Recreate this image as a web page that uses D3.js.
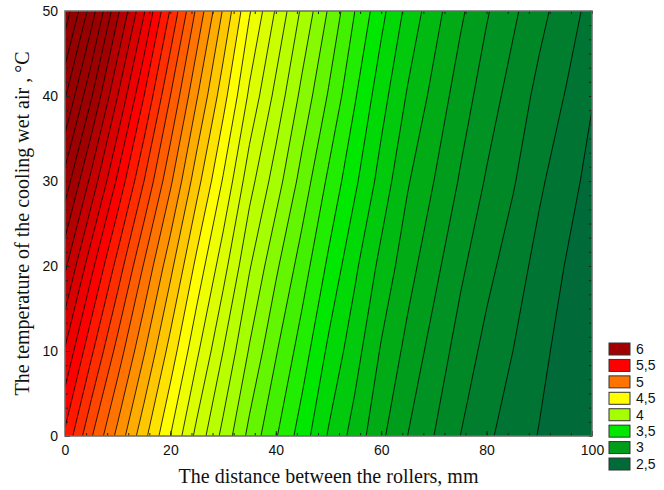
<!DOCTYPE html>
<html>
<head>
<meta charset="utf-8">
<script src="https://cdn.jsdelivr.net/npm/d3@7"></script>
<style>
  body { margin: 0; background: #fff; }
  svg { display: block; }
</style>
</head>
<body>
<svg id="chart" width="664" height="490"></svg>
<script>
//  1] Data ----------------------------------------//
// grid columns: distance between the rollers (mm), rows: air temperature (°C)
const distance = [0, 5, 10, 15, 20, 25, 30, 35, 40, 45, 50, 55, 60, 65, 70, 75, 80, 85, 90, 95, 100];
const temperature = [0, 10, 20, 30, 40, 50];

// response values along each temperature row
const zT0  = [5.48, 5.21, 4.97, 4.73, 4.50, 4.27, 4.07, 3.87, 3.71, 3.55, 3.39, 3.26, 3.12, 3.00, 2.90, 2.80, 2.72, 2.65, 2.595, 2.55, 2.50];
const zT10 = [5.69, 5.42, 5.16, 4.91, 4.66, 4.42, 4.20, 3.99, 3.81, 3.65, 3.48, 3.34, 3.19, 3.07, 2.96, 2.86, 2.77, 2.70, 2.626, 2.564, 2.512];
const zT20 = [5.92, 5.63, 5.36, 5.09, 4.83, 4.57, 4.34, 4.11, 3.92, 3.75, 3.58, 3.42, 3.27, 3.14, 3.03, 2.92, 2.83, 2.75, 2.666, 2.596, 2.535];
const zT30 = [6.16, 5.87, 5.58, 5.30, 5.02, 4.74, 4.49, 4.24, 4.05, 3.86, 3.68, 3.52, 3.36, 3.21, 3.10, 2.99, 2.89, 2.81, 2.717, 2.64, 2.568];
const zT40 = [6.41, 6.11, 5.80, 5.50, 5.20, 4.91, 4.64, 4.38, 4.17, 3.97, 3.79, 3.61, 3.44, 3.29, 3.17, 3.05, 2.95, 2.86, 2.771, 2.695, 2.606];
const zT50 = [6.66, 6.35, 6.02, 5.71, 5.39, 5.08, 4.79, 4.51, 4.29, 4.08, 3.89, 3.70, 3.53, 3.37, 3.24, 3.12, 3.01, 2.92, 2.83, 2.75, 2.665];

// legend (top to bottom)
const legendLevels = [6, 5.5, 5, 4.5, 4, 3.5, 3, 2.5];
const legendColors = ["#a00000", "#ff0000", "#ff7400", "#ffff00", "#a6ff00", "#00e800", "#009c1c", "#006a38"];

const xTicks = [0, 20, 40, 60, 80, 100];
const yTicks = [0, 10, 20, 30, 40, 50];

//  2] Chart settings ------------------------------//
const plotLeft = 65, plotRight = 592, plotTop = 11, plotBottom = 436;
const svg = d3.select("#chart");

const x = d3.scaleLinear().domain([0, 100]).range([plotLeft, plotRight]);
const y = d3.scaleLinear().domain([0, 50]).range([plotBottom, plotTop]);

// band colour, interpolated through the legend colours
const color = d3.scaleLinear()
  .domain([2.5, 3, 3.5, 4, 4.5, 5, 5.5, 6, 6.7])
  .range(legendColors.slice().reverse().concat(["#8c0000"]))
  .clamp(true);

//  3] Contours ------------------------------------//
const grid = [zT0, zT10, zT20, zT30, zT40, zT50].flat();
const levels = d3.range(26, 67).map(d => d / 10);

const contours = d3.contours()
  .size([distance.length, temperature.length])
  .thresholds(levels)(grid);

// contour grid coords -> data -> pixels (grid value i sits at i + 0.5)
const stepX = distance[1] - distance[0];
const stepY = temperature[1] - temperature[0];
const toPixels = d3.geoTransform({
  point(gx, gy) {
    this.stream.point(x(distance[0] + (gx - 0.5) * stepX), y(temperature[0] + (gy - 0.5) * stepY));
  }
});
const path = d3.geoPath(toPixels);

svg.append("clipPath").attr("id", "plotclip")
  .append("rect")
  .attr("x", plotLeft).attr("y", plotTop)
  .attr("width", plotRight - plotLeft).attr("height", plotBottom - plotTop);

const plot = svg.append("g").attr("clip-path", "url(#plotclip)");

plot.append("rect")
  .attr("x", plotLeft).attr("y", plotTop)
  .attr("width", plotRight - plotLeft).attr("height", plotBottom - plotTop)
  .attr("fill", color(2.5));

plot.append("g")
  .selectAll("path")
  .data(contours)
  .join("path")
  .attr("d", path)
  .attr("fill", d => color(d.value));

plot.append("g")
  .selectAll("path")
  .data(contours)
  .join("path")
  .attr("d", path)
  .attr("fill", "none")
  .attr("stroke", "#000")
  .attr("stroke-width", 0.8);

//  4] Axes (inner ticks on all four sides) --------//
const xMinor = d3.range(0, 101, 4);
const yMinor = d3.range(0, 31).map(i => i * 50 / 30);

function styleAxis(g) {
  g.select(".domain").remove();
  g.selectAll("line").attr("stroke", "#222");
  g.selectAll("text")
    .attr("font-family", "'Liberation Sans', Arial, sans-serif")
    .attr("font-size", 14)
    .attr("fill", "#111");
}

svg.append("g")
  .attr("transform", `translate(0, ${plotBottom})`)
  .call(d3.axisBottom(x).tickValues(xMinor).tickSize(-3).tickFormat(""))
  .call(styleAxis);
svg.append("g")
  .attr("transform", `translate(0, ${plotTop})`)
  .call(d3.axisTop(x).tickValues(xMinor).tickSize(-3).tickFormat(""))
  .call(styleAxis);
svg.append("g")
  .attr("transform", `translate(${plotLeft}, 0)`)
  .call(d3.axisLeft(y).tickValues(yMinor).tickSize(-3).tickFormat(""))
  .call(styleAxis);
svg.append("g")
  .attr("transform", `translate(${plotRight}, 0)`)
  .call(d3.axisRight(y).tickValues(yMinor).tickSize(-3).tickFormat(""))
  .call(styleAxis);

svg.append("g")
  .attr("transform", `translate(0, ${plotBottom})`)
  .call(d3.axisBottom(x).tickValues(xTicks).tickSize(-5).tickPadding(9).tickFormat(d3.format("d")))
  .call(styleAxis);
svg.append("g")
  .attr("transform", `translate(${plotLeft}, 0)`)
  .call(d3.axisLeft(y).tickValues(yTicks).tickSize(-5).tickPadding(7).tickFormat(d3.format("d")))
  .call(styleAxis);

// plot frame
svg.append("rect")
  .attr("x", plotLeft).attr("y", plotTop)
  .attr("width", plotRight - plotLeft).attr("height", plotBottom - plotTop)
  .attr("fill", "none")
  .attr("stroke", "#6b6b6b")
  .attr("stroke-width", 1.5);

//  5] Axis titles ---------------------------------//
svg.append("text")
  .attr("x", (plotLeft + plotRight) / 2)
  .attr("y", 483)
  .attr("text-anchor", "middle")
  .attr("font-family", "'Liberation Serif', 'Times New Roman', serif")
  .attr("font-size", 20)
  .attr("fill", "#111")
  .text("The distance between the rollers, mm");

svg.append("text")
  .attr("transform", `translate(28.5, ${(plotTop + plotBottom) / 2}) rotate(-90)`)
  .attr("text-anchor", "middle")
  .attr("font-family", "'Liberation Serif', 'Times New Roman', serif")
  .attr("font-size", 20)
  .attr("fill", "#111")
  .text("The temperature of the cooling wet air , °C");

//  6] Legend --------------------------------------//
const legend = svg.append("g").attr("transform", "translate(609, 343)");
const item = legend.selectAll("g")
  .data(legendLevels)
  .join("g")
  .attr("transform", (d, i) => `translate(0, ${i * 16.43})`);

item.append("rect")
  .attr("width", 21).attr("height", 12)
  .attr("fill", (d, i) => legendColors[i])
  .attr("stroke", "#333")
  .attr("stroke-width", 1);

item.append("text")
  .attr("x", 27)
  .attr("y", 6)
  .attr("dy", "0.35em")
  .attr("font-family", "'Liberation Sans', Arial, sans-serif")
  .attr("font-size", 14)
  .attr("fill", "#111")
  .text(d => String(d).replace(".", ","));
</script>
</body>
</html>
